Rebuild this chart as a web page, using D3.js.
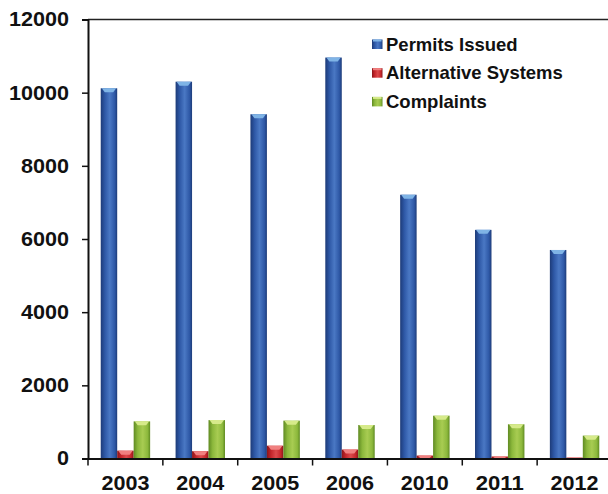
<!DOCTYPE html>
<html>
<head>
<meta charset="utf-8">
<script src="https://cdn.jsdelivr.net/npm/d3@7"></script>
<style>
  html, body { margin: 0; padding: 0; background: #fff; }
  svg { display: block; font-family: "Liberation Sans", Arial, sans-serif; }
</style>
</head>
<body>
<svg id="chart" width="608" height="494"></svg>
<script>
// Data
const years = ['2003', '2004', '2005', '2006', '2010', '2011', '2012'];
const permits = [10120, 10300, 9410, 10960, 7210, 6250, 5700];
const altSystems = [215, 200, 350, 245, 80, 55, 25];
const complaints = [1015, 1050, 1035, 915, 1170, 935, 625];
const seriesNames = ['Permits Issued', 'Alternative Systems', 'Complaints'];
const yTicks = [0, 2000, 4000, 6000, 8000, 10000, 12000];

const colors = [
    { main: '#2e58a6', dark: '#1d3b78', light: '#4a78c4', cap: '#7fb4e6' },
    { main: '#c4262b', dark: '#8a1519', light: '#dc4a4c', cap: '#f08080' },
    { main: '#8cb83c', dark: '#5f8a22', light: '#a8cc52', cap: '#d6ea8a' }
];

const svg = d3.select('#chart');
const margin = { left: 88, top: 19.5, right: -4, bottom: 35.5 };
const width = 608 - margin.left - margin.right;
const height = 494 - margin.top - margin.bottom;

const x = d3.scaleBand().domain(years).range([0, width]).paddingInner(0.34).paddingOuter(0.17);
const xs = d3.scaleBand().domain(d3.range(3)).range([0, x.bandwidth()]);
const y = d3.scaleLinear().domain([0, 12000]).range([height, 0]);

// gradients for the cylinder look
const defs = svg.append('defs');
colors.forEach((c, i) => {
    const g = defs.append('linearGradient').attr('id', 'grad' + i)
        .attr('x1', '0%').attr('x2', '100%').attr('y1', '0%').attr('y2', '0%');
    g.append('stop').attr('offset', '0%').attr('stop-color', c.dark);
    g.append('stop').attr('offset', '25%').attr('stop-color', c.main);
    g.append('stop').attr('offset', '55%').attr('stop-color', c.light);
    g.append('stop').attr('offset', '85%').attr('stop-color', c.main);
    g.append('stop').attr('offset', '100%').attr('stop-color', c.dark);
});

const plot = svg.append('g').attr('transform', `translate(${margin.left},${margin.top})`);

// top frame line
plot.append('line').attr('x1', 0).attr('x2', width).attr('y1', 0).attr('y2', 0)
    .attr('stroke', '#222').attr('stroke-width', 1.5);

const seriesData = [permits, altSystems, complaints];
seriesData.forEach((vals, si) => {
    const grp = plot.append('g');
    vals.forEach((v, i) => {
        const bx = x(years[i]) + xs(si);
        const bw = xs.bandwidth();
        const by = y(v);
        const bh = height - by;
        grp.append('rect')
            .attr('x', bx).attr('y', by).attr('width', bw).attr('height', bh)
            .attr('fill', `url(#grad${si})`);
        // lighter cap at the top
        const capH = Math.min(4, bh);
        grp.append('path')
            .attr('d', `M${bx + 1},${by} L${bx + bw - 1},${by} L${bx + bw - 4},${by + capH} L${bx + 4},${by + capH} Z`)
            .attr('fill', colors[si].cap);
    });
});

// y axis (labels are a bit wide in the original, stretch them a little)
const yAxis = plot.append('g')
    .call(d3.axisLeft(y).tickValues(yTicks).tickSize(6).tickPadding(13).tickFormat(d3.format('d')));
yAxis.select('.domain').attr('stroke', '#111').attr('stroke-width', 2);
yAxis.selectAll('.tick line').attr('stroke', '#111').attr('stroke-width', 1.5);
yAxis.selectAll('text').attr('font-size', 20).attr('font-weight', 'bold').attr('fill', '#111')
    .attr('font-family', '"Liberation Sans", Arial, sans-serif')
    .attr('textLength', d => String(d).length * 12).attr('lengthAdjust', 'spacingAndGlyphs');

// x axis
const xAxis = plot.append('g').attr('transform', `translate(0,${height})`)
    .call(d3.axisBottom(x).tickSize(0).tickPadding(17));
xAxis.select('.domain').attr('stroke', '#111').attr('stroke-width', 2);
xAxis.selectAll('text').attr('font-size', 21).attr('font-weight', 'bold').attr('fill', '#111')
    .attr('font-family', '"Liberation Sans", Arial, sans-serif')
    .attr('textLength', 48).attr('lengthAdjust', 'spacingAndGlyphs');

// category separators
const step = x.step();
const sepPos = d3.range(years.length + 1).map(i => x(years[0]) - x.paddingOuter() * step + i * step);
plot.append('g').selectAll('line').data(sepPos).join('line')
    .attr('x1', d => d).attr('x2', d => d).attr('y1', height).attr('y2', height + 7)
    .attr('stroke', '#111').attr('stroke-width', 1.5);

// legend
const legend = svg.append('g').attr('transform', 'translate(372,44)');
seriesNames.forEach((name, i) => {
    const row = legend.append('g').attr('transform', `translate(0,${i * 28.7})`);
    row.append('rect').attr('x', 0).attr('y', -4.5).attr('width', 10.5).attr('height', 9.5)
        .attr('fill', `url(#grad${i})`);
    row.append('rect').attr('x', 1).attr('y', -4.5).attr('width', 8.5).attr('height', 2)
        .attr('fill', colors[i].cap);
    row.append('text').attr('x', 14).attr('y', 0).attr('dy', '0.36em')
        .attr('font-size', 18.5).attr('font-weight', 'bold').attr('fill', '#111')
        .text(name);
});
</script>
</body>
</html>
